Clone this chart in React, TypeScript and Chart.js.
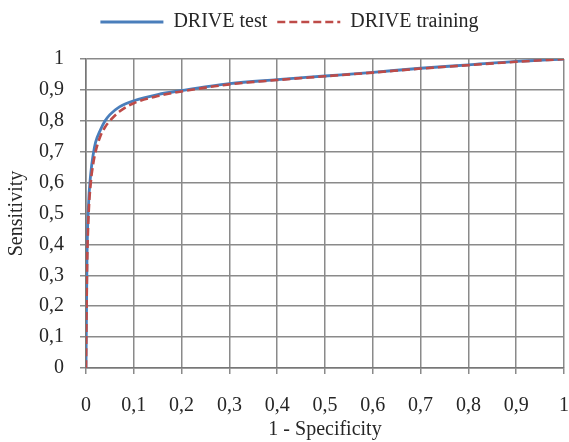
import React, { useEffect, useRef } from "react";
import { Chart, registerables } from "chart.js";

Chart.register(...registerables);

const fpr = [0, 0.002, 0.005, 0.01, 0.015, 0.02, 0.03, 0.04, 0.05, 0.07, 0.1, 0.15, 0.2, 0.3, 0.4, 0.5, 0.6, 0.7, 0.8, 0.9, 1];
const testTpr = [0, 0.35, 0.52, 0.63, 0.69, 0.73, 0.77, 0.8, 0.82, 0.845, 0.865, 0.885, 0.898, 0.92, 0.933, 0.945, 0.957, 0.97, 0.981, 0.992, 1];
const trainTpr = [0, 0.3, 0.48, 0.6, 0.66, 0.7, 0.75, 0.78, 0.8, 0.83, 0.857, 0.88, 0.895, 0.918, 0.932, 0.944, 0.956, 0.969, 0.98, 0.991, 1];
const seriesNames = ["DRIVE test", "DRIVE training"];
const tickLabels = ["0", "0,1", "0,2", "0,3", "0,4", "0,5", "0,6", "0,7", "0,8", "0,9", "1"];
const xTitle = "1 - Specificity";
const yTitle = "Sensitivity";

const FONT = "'Liberation Serif', 'Times New Roman', serif";
const TEXT = "#262626";
const GRID = "#8a8a8a";

const layoutTweak = {
  id: "layoutTweak",
  afterInit(chart: any) {
    const lg = chart.legend;
    if (lg && !lg.__patched) {
      const orig = lg.fit.bind(lg);
      lg.fit = function () {
        orig();
        this.height += 17;
      };
      lg.__patched = true;
    }
  },
  afterLayout(chart: any) {
    const lg = chart.legend;
    if (lg) {
      lg.left += 10;
    }
  },
};

export default function App() {
  const ref = useRef<HTMLCanvasElement>(null);
  useEffect(() => {
    if (!ref.current) return;
    const tickCb = (_v: any, i: number) => tickLabels[i];
    const chart = new Chart(ref.current, {
      type: "scatter",
      data: {
        datasets: [
          {
            label: seriesNames[0],
            data: fpr.map((x, i) => ({ x, y: testTpr[i] })),
            showLine: true,
            borderColor: "#4a7ebb",
            backgroundColor: "#4a7ebb",
            borderWidth: 2.8,
            pointRadius: 0,
            cubicInterpolationMode: "monotone",
            order: 1,
          },
          {
            label: seriesNames[1],
            data: fpr.map((x, i) => ({ x, y: trainTpr[i] })),
            showLine: true,
            borderColor: "#be4b48",
            backgroundColor: "#be4b48",
            borderWidth: 2.6,
            borderDash: [8, 4],
            pointRadius: 0,
            cubicInterpolationMode: "monotone",
            order: 0,
          },
        ],
      },
      plugins: [layoutTweak],
      options: {
        animation: false,
        responsive: false,
        maintainAspectRatio: false,
        layout: { padding: { left: 0, right: 0, top: 2, bottom: 0 } },
        plugins: {
          tooltip: { enabled: false },
          legend: {
            position: "top",
            labels: {
              usePointStyle: true,
              pointStyle: "line",
              pointStyleWidth: 63,
              boxHeight: 20,
              color: TEXT,
              padding: 10,
              font: { family: FONT, size: 20 },
              sort: (a: any, b: any) => a.datasetIndex - b.datasetIndex,
              generateLabels: (c: any) =>
                Chart.defaults.plugins.legend.labels.generateLabels(c).map((l: any) => {
                  const ds: any = c.data.datasets[l.datasetIndex];
                  return { ...l, lineDash: ds.borderDash || [], lineWidth: ds.borderWidth, strokeStyle: ds.borderColor };
                }),
            },
          },
        },
        scales: {
          x: {
            type: "linear",
            min: 0,
            max: 1,
            afterFit: (s: any) => {
              s.height = 74;
              s.paddingRight = 5;
              s.paddingLeft = 0;
            },
            ticks: { stepSize: 0.1, callback: tickCb, color: TEXT, font: { family: FONT, size: 20 }, padding: 20, maxRotation: 0, autoSkip: false },
            grid: { color: GRID, lineWidth: 1.5, tickLength: 6, drawTicks: true },
            border: { color: "#777", width: 1.5 },
            title: { display: true, text: xTitle, color: TEXT, font: { family: FONT, size: 20 }, padding: { top: 0, bottom: 0 } },
          },
          y: {
            type: "linear",
            min: 0,
            max: 1,
            afterFit: (s: any) => {
              s.width = 86;
              s.paddingTop = 0;
              s.paddingBottom = 0;
            },
            ticks: { stepSize: 0.1, callback: tickCb, color: TEXT, font: { family: FONT, size: 20 }, padding: 16, autoSkip: false },
            grid: { color: GRID, lineWidth: 1.5, tickLength: 6, drawTicks: true },
            border: { color: "#777", width: 1.5 },
            title: { display: true, text: yTitle, color: TEXT, font: { family: FONT, size: 20 }, padding: { top: 5, bottom: 5 } },
          },
        },
      },
    });
    return () => chart.destroy();
  }, []);
  return (
    <div style={{ position: "fixed", left: 0, top: 0, width: 569, height: 442, background: "#fff" }}>
      <canvas ref={ref} width={569} height={442} style={{ display: "block", width: 569, height: 442 }} />
    </div>
  );
}
